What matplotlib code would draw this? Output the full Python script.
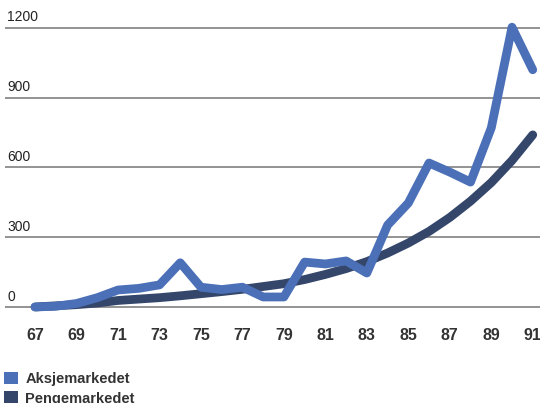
import matplotlib
matplotlib.use("Agg")
import matplotlib.pyplot as plt
from matplotlib.patches import Patch

plt.rcParams['font.family'] = ['Liberation Sans Narrow', 'Liberation Sans', 'DejaVu Sans']

# Data
years = list(range(67, 92))
aksjer = [0, 3, 15, 40, 73, 80, 95, 190, 85, 75, 85, 43, 43,
          193, 185, 198, 146, 352, 447, 619, 580, 537, 770, 1203, 1020]
penger = [0, 5, 10, 17, 28, 34, 40, 48, 57, 66, 76, 88, 100,
          118, 140, 165, 195, 232, 275, 325, 385, 455, 535, 630, 740]
series_names = ['Aksjemarkedet', 'Pengemarkedet']
xtick_years = list(range(67, 92, 2))
ytick_vals = [0, 300, 600, 900, 1200]

blue = '#4b70b8'
dark = '#34476b'
text_col = '#333333'

fig = plt.figure(figsize=(5.4, 4.03), dpi=100)
ax = fig.add_axes([5 / 540, 1 - 320 / 403, 1 - 5 / 540, 320 / 403])

ax.set_xlim(65.55, 91.35)
ax.set_ylim(-56, 1320)

for v in ytick_vals:
    ax.axhline(v, color='#8a8a8a', lw=1.3, zorder=1)
    ax.annotate(str(v), xy=(0, v), xycoords=('axes fraction', 'data'),
                xytext=(1.5, 2.5), textcoords='offset points',
                ha='left', va='bottom', fontsize=10, color='#222222')

ax.plot(years, penger, color=dark, lw=6.3, solid_capstyle='round',
        solid_joinstyle='round', zorder=2)
ax.plot(years, aksjer, color=blue, lw=6.3, solid_capstyle='round',
        solid_joinstyle='round', zorder=3)

ax.set_xticks(xtick_years)
ax.set_xticklabels([str(y) for y in xtick_years], fontsize=11.5,
                   fontweight='bold', color=text_col)
ax.tick_params(axis='x', length=0, pad=6)
ax.set_yticks([])
for s in ax.spines.values():
    s.set_visible(False)

handles = [Patch(facecolor=blue), Patch(facecolor=dark)]
fig.legend(handles, series_names, loc='upper left',
           bbox_to_anchor=(-0.003, 1 - 366 / 403), frameon=False,
           handlelength=0.95, handleheight=0.95, handletextpad=0.5,
           labelspacing=0.35, borderaxespad=0,
           prop={'size': 10.5, 'weight': 'bold'}, labelcolor=text_col)

fig.savefig('out.png', dpi=100)
